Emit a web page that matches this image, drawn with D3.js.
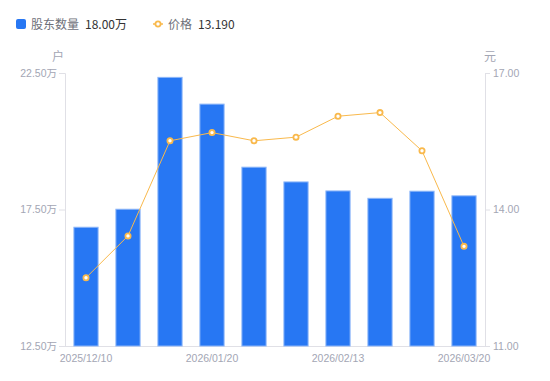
<!DOCTYPE html>
<html><head><meta charset="utf-8">
<script src="https://cdn.jsdelivr.net/npm/d3@7"></script>
<style>body{margin:0;background:#fff;font-family:"Noto Sans CJK SC","Noto Sans",sans-serif;}</style>
</head><body><svg id="c" width="550" height="381"></svg>
<script>
const dates = ["2025/12/10","2025/12/19","2025/12/31","2026/01/20","2026/01/30","2026/02/06","2026/02/13","2026/02/27","2026/03/10","2026/03/20"];
const holders = [16.85,17.51,22.34,21.36,19.05,18.51,18.18,17.91,18.17,18.00];
const prices = [12.50,13.42,15.51,15.69,15.51,15.59,16.05,16.13,15.29,13.19];
const leftTicks = [12.5,17.5,22.5];
const rightTicks = [11,14,17];
const shownDates = ["2025/12/10","2026/01/20","2026/02/13","2026/03/20"];

const svg = d3.select("#c");
const L=65, R=485, T=73, B=346;
const x = d3.scaleBand().domain(dates).range([L,R]).paddingInner(0.4).paddingOuter(0.2);
const yL = d3.scaleLinear().domain([12.5,22.5]).range([B,T]);
const yR = d3.scaleLinear().domain([11,17]).range([B,T]);
const grey="#a3a6b4", axisC="#e0e0e6";
const tickFont = "'Liberation Sans',Arial,'Noto Sans CJK SC',sans-serif";

// axes
const ax = svg.append("g").attr("transform",`translate(${L},0)`).call(d3.axisLeft(yL).tickValues(leftTicks).tickSize(6).tickPadding(2).tickFormat(d=>d3.format(".2f")(d)+"万"));
const ar = svg.append("g").attr("transform",`translate(${R},0)`).call(d3.axisRight(yR).tickValues(rightTicks).tickSize(5).tickPadding(3).tickFormat(d3.format(".2f")));
const ab = svg.append("g").attr("transform",`translate(0,${B})`).call(d3.axisBottom(x).tickValues(shownDates).tickSize(0).tickPadding(9));
[ax,ar,ab].forEach(g=>{
  g.selectAll("path,line").attr("stroke",axisC);
  g.selectAll("text").attr("fill",grey).style("font-size","10.5px").style("font-family",tickFont);
});
ab.select("path").attr("d",`M${L},0.5H${R}`);

svg.append("text").attr("x",58).attr("y",61).attr("text-anchor","middle").attr("fill",grey).style("font-size","12px").text("户");
svg.append("text").attr("x",490).attr("y",61).attr("text-anchor","middle").attr("fill",grey).style("font-size","12px").text("元");

// bars
svg.append("g").selectAll("rect").data(dates).join("rect")
  .attr("x",d=>x(d)+0.5).attr("width",x.bandwidth()-1)
  .attr("y",(d,i)=>yL(holders[i])).attr("height",(d,i)=>B-yL(holders[i]))
  .attr("fill","#2777f3").attr("stroke","#8db6f8").attr("stroke-width",1);

// line
const line = d3.line().x((d,i)=>x(dates[i])+x.bandwidth()/2).y(d=>yR(d));
svg.append("path").datum(prices).attr("d",line).attr("fill","none").attr("stroke","#f9b94c").attr("stroke-width",1);
svg.append("g").selectAll("circle").data(prices).join("circle")
  .attr("cx",(d,i)=>x(dates[i])+x.bandwidth()/2).attr("cy",d=>yR(d)).attr("r",2.6)
  .attr("fill","#fff").attr("stroke","#f9b94c").attr("stroke-width",1.8);

// legend
const lg = svg.append("g").style("font-size","12px");
lg.append("rect").attr("x",16).attr("y",19).attr("width",10).attr("height",10).attr("rx",2).attr("fill","#2777f3");
lg.append("text").attr("x",31).attr("y",28.5).attr("fill","#6e7079").text("股东数量");
lg.append("text").attr("x",85).attr("y",28.5).attr("fill","#333").text(d3.format(".2f")(holders[holders.length-1])+"万");
lg.append("line").attr("x1",153).attr("x2",163).attr("y1",24).attr("y2",24).attr("stroke","#f9b94c").attr("stroke-width",1.5);
lg.append("circle").attr("cx",158).attr("cy",24).attr("r",2.6).attr("fill","#fff").attr("stroke","#f9b94c").attr("stroke-width",1.8);
lg.append("text").attr("x",168).attr("y",28.5).attr("fill","#6e7079").text("价格");
lg.append("text").attr("x",198).attr("y",28.5).attr("fill","#333").text(d3.format(".3f")(prices[prices.length-1]));
</script></body></html>
